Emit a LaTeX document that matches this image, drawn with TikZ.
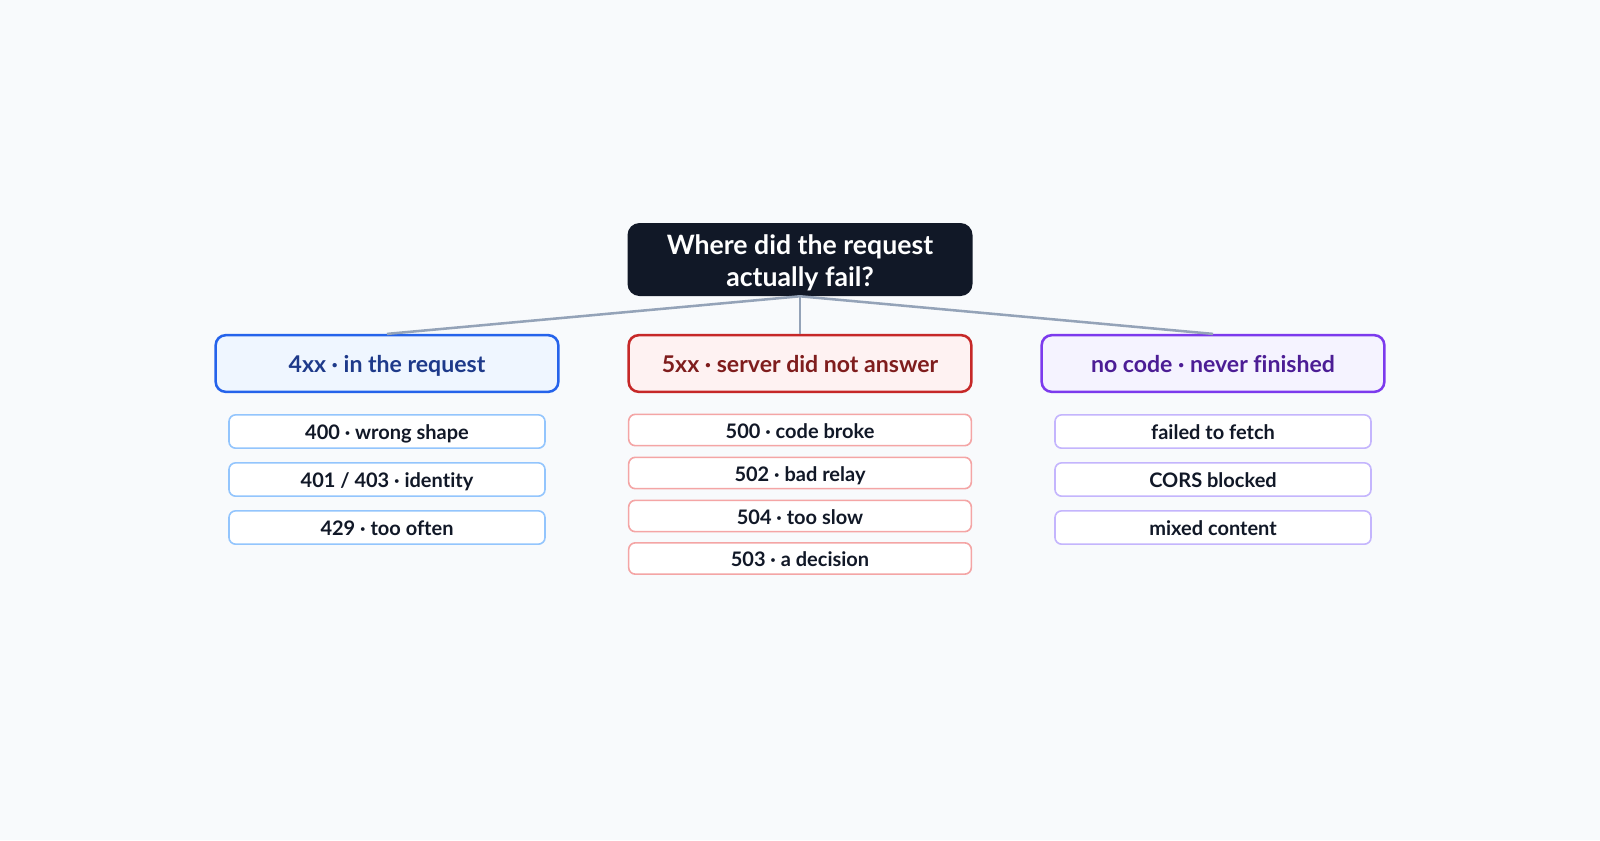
\documentclass[tikz,border=0pt]{standalone}
\usepackage{fontspec}
\setmainfont{Lato}[Ligatures=NoCommon]
\usepackage{tikz}
\definecolor{pagebg}{HTML}{F8FAFC}
\definecolor{rootbg}{HTML}{111827}
\definecolor{edgegray}{HTML}{94A3B8}
\definecolor{inkdark}{HTML}{111827}
\definecolor{reqline}{HTML}{2563EB}
\definecolor{reqfill}{HTML}{EFF6FF}
\definecolor{reqtext}{HTML}{1E3A8A}
\definecolor{reqleaf}{HTML}{93C5FD}
\definecolor{srvline}{HTML}{C62828}
\definecolor{srvfill}{HTML}{FEF2F2}
\definecolor{srvtext}{HTML}{7F1D1D}
\definecolor{srvleaf}{HTML}{F4A5A5}
\definecolor{netline}{HTML}{7C3AED}
\definecolor{netfill}{HTML}{F5F3FF}
\definecolor{nettext}{HTML}{4C1D95}
\definecolor{netleaf}{HTML}{C4B5FD}

\begin{document}
\begin{tikzpicture}[x=0.75pt,y=-0.75pt,
  rootbox/.style={fill=rootbg,text=white,rounded corners=9pt,inner sep=0pt,
    minimum width=258.75pt,minimum height=54.75pt,
    font=\fontsize{20}{24}\selectfont\bfseries},
  catbox/.style={draw=#1line,fill=#1fill,text=#1text,line width=1.9pt,
    rounded corners=7.5pt,inner sep=0pt,minimum width=257pt,minimum height=42.5pt,
    text height=14.3pt,text depth=1.2pt,font=\fontsize{17.3}{20}\selectfont\bfseries},
  leafbox/.style={draw=#1leaf,fill=white,text=inkdark,line width=1.2pt,
    rounded corners=5pt,inner sep=0pt,minimum width=237pt,minimum height=25pt,
    text height=12.8pt,text depth=0.7pt,font=\fontsize{15}{18}\selectfont\bfseries},
  edge/.style={edgegray,line width=1.9pt}]
% Page
\fill[pagebg] (0,0) rectangle (1600,840);
\useasboundingbox (0,0) rectangle (1600,840);

% Question
\node[rootbox] (root) at (800,259.5) {\raisebox{-3.8pt}[\height][\depth]{\begin{tabular}{@{}c@{}}Where did the request\\actually fail?\end{tabular}}};

% Branches
\node[catbox=req] (req) at (387,363.5) {4xx · in the request};
\node[catbox=srv] (srv) at (800,363.5) {5xx · server did not answer};
\node[catbox=net] (net) at (1213,363.5) {no code · never finished};

% Edges from the question
\draw[edge] (root.south) -- (req.north);
\draw[edge] (root.south) -- (srv.north);
\draw[edge] (root.south) -- (net.north);

% 4xx leaves
\node[leafbox=req] (bad) at (387,431.5) {400 · wrong shape};
\node[leafbox=req] (auth) at (387,479.5) {401 / 403 · identity};
\node[leafbox=req] (rate) at (387,527.5) {429 · too often};

% 5xx leaves
\node[leafbox=srv,minimum width=257pt,minimum height=23.5pt] (broke) at (800,430) {500 · code broke};
\node[leafbox=srv,minimum width=257pt,minimum height=23.5pt] (relay) at (800,473) {502 · bad relay};
\node[leafbox=srv,minimum width=257pt,minimum height=23.5pt] (slow) at (800,516) {504 · too slow};
\node[leafbox=srv,minimum width=257pt,minimum height=23.5pt] (decide) at (800,558.5) {503 · a decision};

% no code leaves
\node[leafbox=net] (fetch) at (1213,431.5) {failed to fetch};
\node[leafbox=net] (cors) at (1213,479.5) {CORS blocked};
\node[leafbox=net] (mixed) at (1213,527.5) {mixed content};
\end{tikzpicture}
\end{document}
